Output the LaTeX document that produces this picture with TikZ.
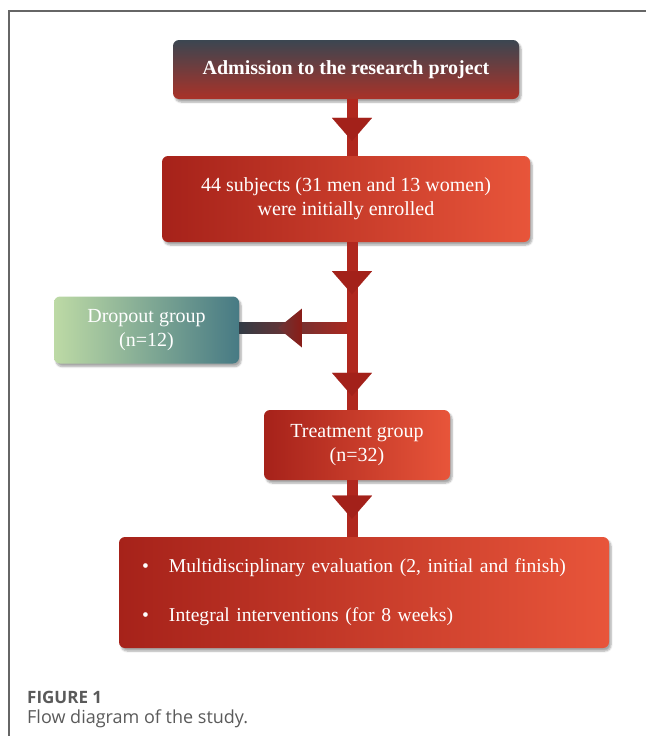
\documentclass[tikz,border=0pt]{standalone}
\usepackage{fontspec}
\setmainfont{Liberation Serif}
\newfontfamily\capfont{Open Sans}
\usetikzlibrary{arrows.meta, shadows.blur, decorations.markings, calc}

\definecolor{slate}{HTML}{3B4651}
\definecolor{boxred}{HTML}{A6221A}
\definecolor{boxorange}{HTML}{E8553A}
\definecolor{topred}{HTML}{AA3228}
\definecolor{shaftred}{HTML}{B0271E}
\definecolor{headred}{HTML}{A3211A}
\definecolor{sage}{HTML}{BDDAA5}
\definecolor{dropteal}{HTML}{477A84}
\definecolor{framegray}{HTML}{666666}
\definecolor{capgray}{HTML}{5A5A5A}

\tikzset{
  box/.style={rounded corners=6pt, text=white, align=center, inner sep=0pt,
    font=\fontsize{20}{24}\selectfont,
    blur shadow={shadow xshift=2pt, shadow yshift=-3pt, shadow blur steps=6, shadow opacity=35}},
  redbox/.style={box, left color=boxred, right color=boxorange},
  shaft/.style={draw=shaftred, line width=11pt},
  headat/.style={postaction={decorate, decoration={markings,
    mark=at position #1 with {\arrow{Triangle[width=40pt, length=23pt, line width=0.1pt, color=headred]}}}}},
  caption/.style={anchor=base west, inner sep=0pt, text=capgray}
}

\begin{document}
\begin{tikzpicture}[x=1pt, y=-1pt]
\useasboundingbox (0,0) rectangle (646,736);
\draw[framegray, line width=1.3pt] (9,736) -- (9,11) -- (646,11);

% boxes
\node[box, top color=slate, bottom color=topred, minimum width=346pt, minimum height=59pt,
  font=\fontsize{20}{24}\selectfont\bfseries] (admit) at (346,69.5) {Admission to the research project};
\node[redbox, minimum width=368pt, minimum height=86pt] (enrol) at (346,199)
  {44 subjects (31 men and 13 women)\\were initially enrolled};
\node[box, left color=sage, right color=dropteal, minimum width=185pt, minimum height=67pt] (drop) at (146.5,330)
  {Dropout group\\(n=12)};
\node[redbox, minimum width=186pt, minimum height=70pt] (treat) at (357,445)
  {Treatment group\\(n=32)};
\node[redbox, minimum width=490pt, minimum height=111pt, text width=444pt, align=left,
  font=\fontsize{19.6}{24}\selectfont] (plan) at (364,592.5)
  {\makebox[27pt][l]{\textbullet}Multidisciplinary evaluation (2, initial and finish)\\[25pt]
   \makebox[27pt][l]{\textbullet}Integral interventions (for 8 weeks)};

\coordinate (spine) at (352,0);
\coordinate (split) at (352,328);

% dropout branch
\shade[left color=slate!85!black, right color=shaftred] ($(drop.east |- split)+(0,-5.5)$) rectangle ($(split)+(0,5.5)$);
\shade[left color=slate!55!headred, right color=headred!85!black]
  ($(split)+(-74,0)$) -- ($(split)+(-50,-19.5)$) -- ($(split)+(-50,19.5)$) -- cycle;

% main line
\draw[shaft, headat=0.737] (admit.south -| spine) -- (enrol.north -| spine);
\draw[shaft, headat=0.31, headat=0.917] (enrol.south -| spine) -- (treat.north -| spine);
\draw[shaft, headat=0.68] (treat.south -| spine) -- (plan.north -| spine);

% caption
\node[caption, font=\capfont\bfseries\fontsize{17}{20}\selectfont] (fignum) at (27,703) {FIGURE 1};
\node[caption, font=\capfont\fontsize{18}{21}\selectfont] (figtext) at (27,723) {Flow diagram of the study.};
\end{tikzpicture}
\end{document}
